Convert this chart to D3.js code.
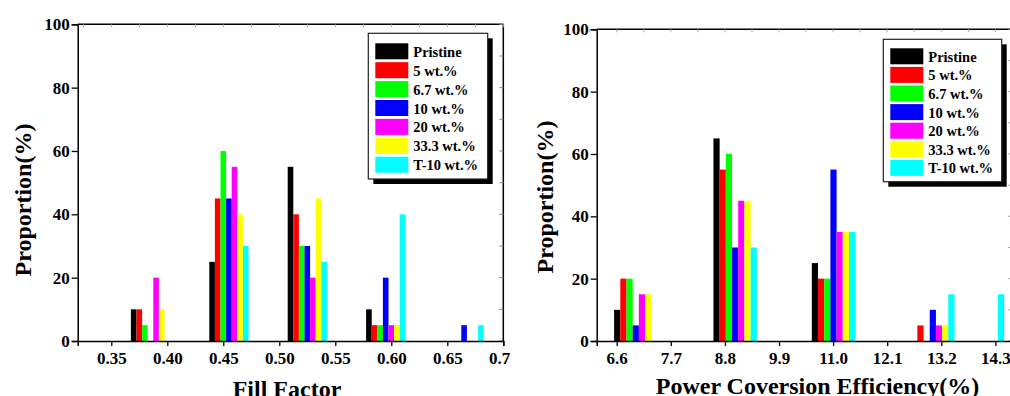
<!DOCTYPE html>
<html>
<head>
<meta charset="utf-8">
<script src="https://cdn.jsdelivr.net/npm/d3@7"></script>
<style>
  body { margin: 0; background: #fff; }
  svg { display: block; position: absolute; top: 0; overflow: hidden; }
  text { font-family: "Liberation Serif", "Times New Roman", serif; font-weight: bold; fill: #000; }
</style>
</head>
<body>
<svg id="ff" width="510" height="396" style="left:0"></svg>
<svg id="pce" width="500" height="396" style="left:510px"></svg>
<script>
// series names and colours
const seriesNames = ['Pristine', '5 wt.%', '6.7 wt.%', '10 wt.%', '20 wt.%', '33.3 wt.%', 'T-10 wt.%'];
const seriesColors = ['#000000', '#ff0000', '#00ff00', '#0000ff', '#ff00ff', '#ffff00', '#00ffff'];

// Fill factor histogram: bin starts and proportion (%) for each series
const ffBins = [0.37, 0.44, 0.51, 0.58, 0.65];
const ffPristine = [10, 25, 55, 10, 0];
const ff5 = [10, 45, 40, 5, 0];
const ff67 = [5, 60, 30, 5, 0];
const ff10 = [0, 45, 30, 20, 5];
const ff20 = [20, 55, 20, 5, 0];
const ff333 = [10, 40, 45, 5, 0];
const ffT10 = [0, 30, 25, 40, 5];
const ffTicks = [0.35, 0.40, 0.45, 0.50, 0.55, 0.60, 0.65, 0.70];

// Power conversion efficiency histogram
const pceBins = [6.61, 8.63, 10.63, 12.65, 13.66];
const pcePristine = [10, 65, 25, 0, 0];
const pce5 = [20, 55, 20, 5, 0];
const pce67 = [20, 60, 20, 0, 0];
const pce10 = [5, 30, 55, 10, 0];
const pce20 = [15, 45, 35, 5, 0];
const pce333 = [15, 45, 35, 5, 0];
const pceT10 = [0, 30, 35, 15, 15];
const pceTicks = [6.6, 7.7, 8.8, 9.9, 11.0, 12.1, 13.2, 14.3];

const yTicks = [0, 20, 40, 60, 80, 100];

function drawPanel(cfg) {
  const svg = d3.select(cfg.parentElement);
  const vis = svg.append('g');

  const x = d3.scaleLinear().domain(cfg.xDomain).range([cfg.left, cfg.right]);
  const y = d3.scaleLinear().domain([0, 100]).range([cfg.bottom, cfg.top]);

  // bars
  const rows = [];
  cfg.values.forEach((vals, s) => {
    vals.forEach((v, b) => {
      if (v > 0) rows.push({ s: s, x: cfg.bins[b] + s * cfg.step, v: v });
    });
  });
  const bw = x(cfg.xDomain[0] + cfg.step) - x(cfg.xDomain[0]);
  vis.selectAll('rect.bar').data(rows).enter().append('rect')
      .attr('class', 'bar')
      .attr('x', d => x(d.x) - bw / 2)
      .attr('y', d => y(d.v))
      .attr('width', bw)
      .attr('height', d => y(0) - y(d.v))
      .style('fill', d => seriesColors[d.s]);

  // minor ticks positions
  const xMinor = [];
  for (let i = 0; i < cfg.xTicks.length - 1; i++) xMinor.push((cfg.xTicks[i] + cfg.xTicks[i + 1]) / 2);
  xMinor.unshift(cfg.xTicks[0] - (cfg.xTicks[1] - cfg.xTicks[0]) / 2);
  const yMinor = [10, 30, 50, 70, 90];

  // top and right frame with faint inward ticks
  vis.append('line').attr('x1', cfg.left).attr('x2', cfg.right).attr('y1', cfg.top).attr('y2', cfg.top)
      .style('stroke', '#000').style('stroke-width', 1.5);
  vis.append('line').attr('x1', cfg.right).attr('x2', cfg.right).attr('y1', cfg.top).attr('y2', cfg.bottom)
      .style('stroke', '#000').style('stroke-width', 1.5);
  vis.selectAll('line.tt').data(cfg.xTicks.concat(xMinor)).enter().append('line')
      .attr('x1', d => x(d)).attr('x2', d => x(d))
      .attr('y1', cfg.top).attr('y2', cfg.top + 3)
      .style('stroke', '#aaa').style('stroke-width', 1);
  vis.selectAll('line.rt').data(yTicks.concat(yMinor)).enter().append('line')
      .attr('x1', cfg.right).attr('x2', cfg.right - 4)
      .attr('y1', d => y(d)).attr('y2', d => y(d))
      .style('stroke', '#888').style('stroke-width', 1);

  // x axis
  const xAxisG = vis.append('g').attr('transform', `translate(0,${cfg.bottom})`);
  xAxisG.call(d3.axisBottom(x).tickValues(xMinor).tickSize(3).tickFormat(''));
  xAxisG.call(d3.axisBottom(x).tickValues(cfg.xTicks).tickSize(5).tickFormat(d3.format(cfg.xFormat)));
  xAxisG.selectAll('.domain').style('stroke-width', 1.5);
  xAxisG.selectAll('line').style('stroke-width', 1.3);
  xAxisG.selectAll('text').attr('y', 23).attr('dy', 0)
      .style('font-size', '17px').style('font-family', '"Liberation Serif", serif').style('font-weight', 'bold');

  // y axis
  const yAxisG = vis.append('g').attr('transform', `translate(${cfg.left},0)`);
  yAxisG.call(d3.axisLeft(y).tickValues(yMinor).tickSize(3).tickFormat(''));
  yAxisG.call(d3.axisLeft(y).tickValues(yTicks).tickSize(6));
  yAxisG.selectAll('.domain').style('stroke-width', 1.5);
  yAxisG.selectAll('line').style('stroke-width', 1.3);
  yAxisG.selectAll('text').attr('x', -8)
      .style('font-size', '17px').style('font-family', '"Liberation Serif", serif').style('font-weight', 'bold');

  // axis titles
  vis.append('text')
      .attr('transform', `translate(${cfg.yTitleX},${cfg.yTitleY}) rotate(-90)`)
      .attr('text-anchor', 'middle').attr('dominant-baseline', 'central')
      .style('font-size', '24px')
      .text('Proportion(%)');
  vis.append('text')
      .attr('x', cfg.xTitleX).attr('y', cfg.xTitleY)
      .attr('text-anchor', 'middle')
      .style('font-size', '24px')
      .text(cfg.xTitle);

  // legend
  const lg = cfg.legend;
  vis.append('rect').attr('x', lg.x + 5).attr('y', lg.y + 5).attr('width', lg.w).attr('height', lg.h)
      .style('fill', '#000');
  vis.append('rect').attr('x', lg.x).attr('y', lg.y).attr('width', lg.w).attr('height', lg.h)
      .style('fill', '#fff').style('stroke', '#222').style('stroke-width', 1.2);
  const items = vis.selectAll('g.item').data(seriesNames).enter().append('g')
      .attr('transform', (d, i) => `translate(${lg.x + 7},${lg.y + lg.pad + i * lg.step})`);
  items.append('rect').attr('width', 33).attr('height', 16)
      .style('fill', (d, i) => seriesColors[i]);
  items.append('text').attr('x', 38).attr('y', 13.5)
      .style('font-size', '14.5px')
      .text(d => d);
}

drawPanel({
  parentElement: '#ff',
  xDomain: [0.32, 0.70], left: 77.7, right: 503.3, top: 24.3, bottom: 341,
  bins: ffBins, step: 0.005,
  values: [ffPristine, ff5, ff67, ff10, ff20, ff333, ffT10],
  xTicks: ffTicks, xFormat: '.2f',
  xTitle: 'Fill Factor', xTitleX: 287, xTitleY: 397,
  yTitleX: 23, yTitleY: 200,
  legend: { x: 368.3, y: 33.3, w: 119.4, h: 145.7, pad: 10, step: 18.9 }
});

drawPanel({
  parentElement: '#pce',
  xDomain: [6.193, 14.65], left: 86.7, right: 502.6, top: 29.3, bottom: 341,
  bins: pceBins, step: 0.126,
  values: [pcePristine, pce5, pce67, pce10, pce20, pce333, pceT10],
  xTicks: pceTicks, xFormat: '.1f',
  xTitle: 'Power Coversion Efficiency(%)', xTitleX: 307.5, xTitleY: 394,
  yTitleX: 35, yTitleY: 197,
  legend: { x: 373.3, y: 39.3, w: 118.4, h: 142.4, pad: 9, step: 18.6 }
});
</script>
</body>
</html>
